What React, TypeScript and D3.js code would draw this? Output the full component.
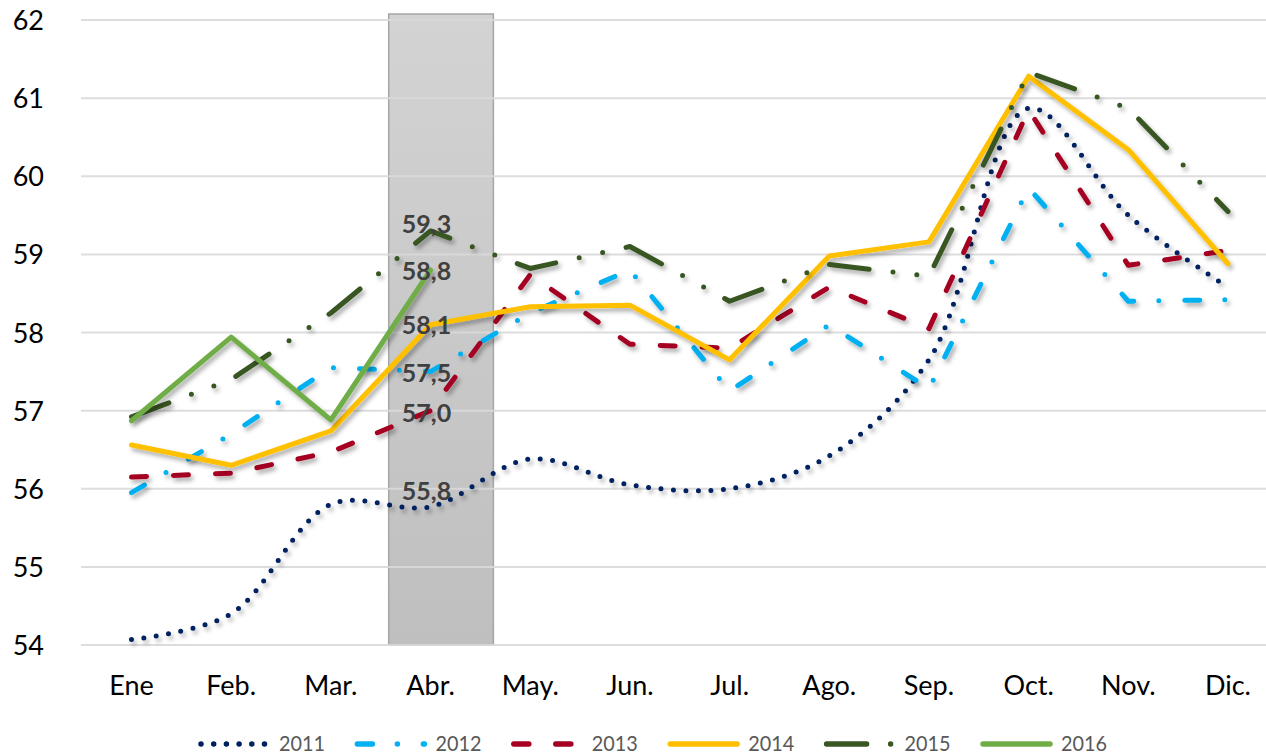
import { useEffect, useRef } from "react";
import * as d3 from "d3";

// categories and axis ticks
const months = ["Ene", "Feb.", "Mar.", "Abr.", "May.", "Jun.", "Jul.", "Ago.", "Sep.", "Oct.", "Nov.", "Dic."];
const yTicks = [54, 55, 56, 57, 58, 59, 60, 61, 62];

// series values
const y2011 = [54.07, 54.4, 55.8, 55.77, 56.38, 56.05, 56.0, 56.42, 57.65, 60.87, 59.5, 58.58];
const y2012 = [55.95, 56.7, 57.55, 57.5, 58.25, 58.8, 57.25, 58.1, 57.28, 59.85, 58.4, 58.42];
const y2013 = [56.15, 56.2, 56.47, 57.0, 58.74, 57.85, 57.8, 58.58, 58.05, 60.85, 58.86, 59.05];
const y2014 = [56.56, 56.3, 56.74, 58.1, 58.33, 58.35, 57.65, 58.98, 59.16, 61.28, 60.34, 58.88];
const y2015 = [56.92, 57.4, 58.25, 59.3, 58.82, 59.1, 58.4, 58.87, 58.72, 61.33, 60.87, 59.55];
const y2016 = [56.87, 57.94, 56.88, 58.8];

const highlightMonth = "Abr.";

const series = [
  { name: "2011", values: y2011, color: "#002060", dash: "0 12.5", smooth: true, labelDy: -16 },
  { name: "2012", values: y2012, color: "#00b0f0", dash: "15 25 0 26", smooth: false, labelDy: 1 },
  { name: "2013", values: y2013, color: "#a50021", dash: "15 27", smooth: false, labelDy: 2 },
  { name: "2014", values: y2014, color: "#ffc000", dash: null, smooth: false, labelDy: 0 },
  { name: "2015", values: y2015, color: "#385723", dash: "40 24 0 24 0 24", smooth: false, labelDy: -7 },
  { name: "2016", values: y2016, color: "#70ad47", dash: null, smooth: false, labelDy: 1 },
];

export default function App() {
  const ref = useRef<SVGSVGElement | null>(null);

  useEffect(() => {
    const width = 1266;
    const svg = d3.select(ref.current);
    svg.selectAll("*").remove();

    const x = d3.scalePoint<string>().domain(months).range([131.5, 1228]);
    const y = d3.scaleLinear().domain([54, 62]).range([645, 20]);
    const step = x.step();

    const defs = svg.append("defs");
    const grad = defs
      .append("linearGradient")
      .attr("id", "bandGrad")
      .attr("x1", 0)
      .attr("y1", 0)
      .attr("x2", 0)
      .attr("y2", 1);
    grad.append("stop").attr("offset", "0%").attr("stop-color", "#d3d3d3");
    grad.append("stop").attr("offset", "100%").attr("stop-color", "#bfbfbf");

    const shadow = defs
      .append("filter")
      .attr("id", "shadow")
      .attr("x", "-10%")
      .attr("y", "-10%")
      .attr("width", "120%")
      .attr("height", "120%");
    shadow
      .append("feDropShadow")
      .attr("dx", 2.5)
      .attr("dy", 3.5)
      .attr("stdDeviation", 2.2)
      .attr("flood-color", "#000")
      .attr("flood-opacity", 0.32);

    // highlighted month column
    const bx = (x(highlightMonth) ?? 0) - step / 2 + 8;
    svg
      .append("rect")
      .attr("x", bx)
      .attr("y", y(62) - 6)
      .attr("width", step + 5)
      .attr("height", y(54) - y(62) + 6)
      .attr("fill", "url(#bandGrad)")
      .attr("stroke", "#a6a6a6")
      .attr("stroke-width", 1.5);

    // gridlines
    svg
      .append("g")
      .selectAll("line")
      .data(yTicks)
      .join("line")
      .attr("x1", 81)
      .attr("x2", width)
      .attr("y1", (d) => y(d))
      .attr("y2", (d) => y(d))
      .attr("stroke", "#d9d9d9")
      .attr("stroke-opacity", 0.9)
      .attr("stroke-width", 2);

    // y axis labels
    svg
      .append("g")
      .selectAll("text")
      .data(yTicks)
      .join("text")
      .attr("x", 44)
      .attr("y", (d) => y(d) + 10)
      .attr("text-anchor", "end")
      .attr("font-family", "Lato, 'Open Sans', sans-serif")
      .attr("font-size", 27)
      .attr("fill", "#000")
      .text((d) => d);

    // x axis labels
    svg
      .append("g")
      .selectAll("text")
      .data(months)
      .join("text")
      .attr("x", (d) => x(d) ?? 0)
      .attr("y", 695)
      .attr("text-anchor", "middle")
      .attr("font-family", "Lato, 'Open Sans', sans-serif")
      .attr("font-size", 27)
      .attr("fill", "#000")
      .text((d) => d);

    // lines
    const lines = svg.append("g");
    series.forEach((s) => {
      const line = d3
        .line<number>()
        .x((_, i) => x(months[i]) ?? 0)
        .y((d) => y(d))
        .curve(s.smooth ? d3.curveCatmullRom.alpha(0.5) : d3.curveLinear);
      lines
        .append("path")
        .attr("d", line(s.values))
        .attr("fill", "none")
        .attr("stroke", s.color)
        .attr("stroke-width", 5)
        .attr("stroke-linecap", "round")
        .attr("stroke-linejoin", "round")
        .attr("stroke-dasharray", s.dash ?? null)
        .attr("filter", "url(#shadow)");
    });

    // data labels on the highlighted month
    const hi = months.indexOf(highlightMonth);
    svg
      .append("g")
      .selectAll("text")
      .data(series)
      .join("text")
      .attr("x", (x(highlightMonth) ?? 0) - 4)
      .attr("y", (d) => y(d.values[hi]) + d.labelDy)
      .attr("dy", "0.36em")
      .attr("text-anchor", "middle")
      .attr("font-family", "Lato, 'Open Sans', sans-serif")
      .attr("font-weight", "bold")
      .attr("font-size", 25)
      .attr("fill", "#404040")
      .text((d) => d.values[hi].toFixed(1).replace(".", ","));

    // legend
    const legend = svg.append("g");
    series.forEach((s, i) => {
      const lx = 201 + i * 156.4;
      legend
        .append("line")
        .attr("x1", lx)
        .attr("x2", lx + 67)
        .attr("y1", 744)
        .attr("y2", 744)
        .attr("stroke", s.color)
        .attr("stroke-width", 5.5)
        .attr("stroke-linecap", "round")
        .attr("stroke-dasharray", s.dash ? (s.smooth ? "0 12.7" : s.dash) : null);
      legend
        .append("text")
        .attr("x", lx + 78)
        .attr("y", 751)
        .attr("font-family", "Lato, 'Open Sans', sans-serif")
        .attr("font-size", 22)
        .attr("fill", "#595959")
        .attr("textLength", 46)
        .attr("lengthAdjust", "spacingAndGlyphs")
        .text(s.name);
    });

    return () => {
      svg.selectAll("*").remove();
    };
  }, []);

  return (
    <svg
      ref={ref}
      width={1266}
      height={755}
      style={{ position: "absolute", left: 0, top: 0, background: "#fff", overflow: "hidden" }}
    />
  );
}
